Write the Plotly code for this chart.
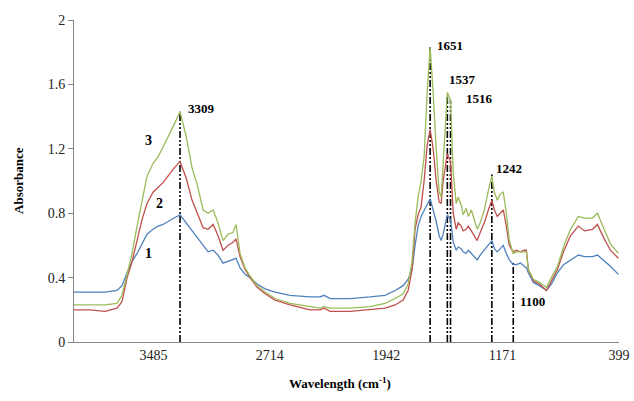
import plotly.graph_objects as go

wavenumber = [4012, 3906, 3806, 3727, 3694, 3660, 3627, 3594, 3561, 3528, 3488, 3455, 3422, 3389, 3349, 3309,
              3269, 3229, 3196, 3156, 3123, 3090, 3057, 3024, 2991, 2958, 2938, 2911, 2878, 2845, 2798, 2745,
              2679, 2580, 2447, 2381, 2354, 2314, 2182, 2049, 1950, 1883, 1830, 1797, 1771, 1751, 1731, 1711,
              1691, 1671, 1651, 1631, 1611, 1591, 1578, 1565, 1551, 1537, 1516, 1498, 1478, 1465, 1445, 1432,
              1412, 1398, 1378, 1359, 1339, 1319, 1292, 1265, 1242, 1225, 1206, 1186, 1166, 1146, 1126, 1100,
              1080, 1053, 1027, 1013, 1000, 967, 927, 880, 847, 807, 767, 721, 668, 628, 575, 542, 502, 456, 403]

series1 = [0.31, 0.31, 0.31, 0.32, 0.35, 0.43, 0.50, 0.55, 0.61, 0.67, 0.70, 0.72, 0.73, 0.75, 0.77, 0.79,
           0.74, 0.69, 0.65, 0.60, 0.56, 0.57, 0.54, 0.49, 0.50, 0.51, 0.52, 0.46, 0.42, 0.40, 0.36, 0.33,
           0.31, 0.29, 0.28, 0.28, 0.29, 0.27, 0.27, 0.28, 0.29, 0.32, 0.35, 0.39, 0.45, 0.60, 0.72, 0.78,
           0.82, 0.86, 0.89, 0.82, 0.75, 0.66, 0.63, 0.67, 0.73, 0.79, 0.76, 0.62, 0.57, 0.59, 0.58, 0.56,
           0.55, 0.57, 0.55, 0.53, 0.51, 0.54, 0.57, 0.60, 0.63, 0.58, 0.56, 0.58, 0.60, 0.55, 0.51, 0.48,
           0.48, 0.49, 0.47, 0.46, 0.43, 0.37, 0.35, 0.32, 0.36, 0.43, 0.48, 0.51, 0.54, 0.53, 0.53, 0.54,
           0.51, 0.47, 0.42]

series2 = [0.20, 0.20, 0.19, 0.21, 0.25, 0.40, 0.50, 0.64, 0.76, 0.86, 0.93, 0.96, 0.99, 1.03, 1.08, 1.12,
           1.02, 0.88, 0.80, 0.71, 0.70, 0.73, 0.66, 0.57, 0.60, 0.62, 0.64, 0.53, 0.45, 0.40, 0.34, 0.30,
           0.26, 0.23, 0.20, 0.20, 0.21, 0.19, 0.19, 0.20, 0.21, 0.23, 0.26, 0.32, 0.45, 0.70, 0.79, 0.84,
           1.00, 1.22, 1.32, 1.20, 1.00, 0.87, 0.86, 1.00, 1.10, 1.17, 1.12, 0.80, 0.70, 0.74, 0.72, 0.69,
           0.70, 0.72, 0.69, 0.66, 0.63, 0.68, 0.74, 0.82, 0.88, 0.82, 0.78, 0.80, 0.82, 0.72, 0.60, 0.56,
           0.57, 0.56, 0.57, 0.57, 0.45, 0.38, 0.36, 0.32, 0.38, 0.45, 0.56, 0.66, 0.72, 0.69, 0.70, 0.73,
           0.65, 0.57, 0.52]

series3 = [0.23, 0.23, 0.23, 0.24, 0.29, 0.42, 0.55, 0.72, 0.88, 1.03, 1.11, 1.15, 1.21, 1.27, 1.35, 1.43,
           1.28, 1.08, 0.98, 0.82, 0.80, 0.82, 0.74, 0.63, 0.67, 0.68, 0.73, 0.55, 0.46, 0.41, 0.35, 0.31,
           0.27, 0.24, 0.22, 0.21, 0.22, 0.21, 0.21, 0.22, 0.24, 0.27, 0.30, 0.36, 0.50, 0.74, 0.90, 1.00,
           1.15, 1.55, 1.83, 1.55, 1.20, 0.93, 0.90, 1.10, 1.38, 1.55, 1.50, 1.05, 0.86, 0.90, 0.85, 0.79,
           0.83, 0.78, 0.82, 0.76, 0.70, 0.74, 0.82, 0.94, 1.03, 0.93, 0.88, 0.92, 0.93, 0.80, 0.63, 0.55,
           0.56, 0.56, 0.56, 0.56, 0.45, 0.39, 0.37, 0.34, 0.40, 0.47, 0.59, 0.70, 0.78, 0.77, 0.77, 0.80,
           0.71, 0.61, 0.55]

series_names = ["1", "2", "3"]
series_colors = ["#4F81BD", "#C0504D", "#9BBB59"]

peak_positions = [3309, 1651, 1537, 1516, 1242, 1100]
peak_tops = [1.43, 1.83, 1.53, 1.50, 1.04, 0.49]
peak_label_y = [1.45, 1.84, 1.63, 1.51, 1.08, 0.25]
peak_label_shift = [6, 5, 0, 13, 2, 5]

x_ticks = [3485, 2714, 1942, 1171, 399]

series_label_x = [3515, 3448, 3521]
series_label_y = [0.55, 0.86, 1.25]

fig = go.Figure()

for pos, top in zip(peak_positions, peak_tops):
    fig.add_trace(go.Scatter(x=[pos, pos], y=[0, top], mode="lines",
                             line=dict(color="black", width=1.6, dash="7px,2px,2px,2px,2px,2px"),
                             showlegend=False, hoverinfo="skip"))

for ys, name, col in zip([series1, series2, series3], series_names, series_colors):
    fig.add_trace(go.Scatter(x=wavenumber, y=ys, mode="lines", name=name,
                             line=dict(color=col, width=1.3), showlegend=False))

serif = "Liberation Serif, Times New Roman, serif"
bold_font = dict(family=serif, size=13, color="black")

for pos, ly, sh in zip(peak_positions, peak_label_y, peak_label_shift):
    fig.add_annotation(x=pos, y=ly, text="<b>%d</b>" % pos, showarrow=False,
                       xanchor="left", yanchor="middle", xshift=sh, font=bold_font)

for name, lx, ly in zip(series_names, series_label_x, series_label_y):
    fig.add_annotation(x=lx, y=ly, text="<b>%s</b>" % name, showarrow=False,
                       xanchor="center", yanchor="middle", font=dict(family=serif, size=14, color="black"))

# axis titles
fig.add_annotation(xref="paper", yref="paper", x=-0.103, y=0.503, text="<b>Absorbance</b>",
                   textangle=-90, showarrow=False, xanchor="center", yanchor="middle",
                   font=dict(family=serif, size=13, color="black"))
fig.add_annotation(xref="paper", yref="paper", x=0.488, y=-0.127, text="<b>Wavelength (cm<sup>-1</sup>)</b>",
                   showarrow=False, xanchor="center", yanchor="middle",
                   font=dict(family=serif, size=13, color="black"))

fig.update_layout(
    width=634, height=401,
    margin=dict(l=74, r=15, t=20, b=59),
    paper_bgcolor="white", plot_bgcolor="white",
    font=dict(family=serif, size=13, color="#222"),
    xaxis=dict(range=[4012, 399], tickvals=x_ticks, ticktext=[str(t) for t in x_ticks],
               showgrid=False, zeroline=False, showline=True, linecolor="#868686", linewidth=1,
               ticks="", tickfont=dict(size=14), automargin=False, ticklabeloverflow="allow"),
    yaxis=dict(range=[0, 2], dtick=0.4, showgrid=False, zeroline=False, showline=True,
               linecolor="#868686", linewidth=1, ticks="outside", ticklen=5, tickcolor="#868686",
               tickfont=dict(size=14), automargin=False),
)

fig.write_html("out.html", config={"displayModeBar": False},
               post_script="document.body.style.margin='0';document.body.style.overflow='hidden';")
